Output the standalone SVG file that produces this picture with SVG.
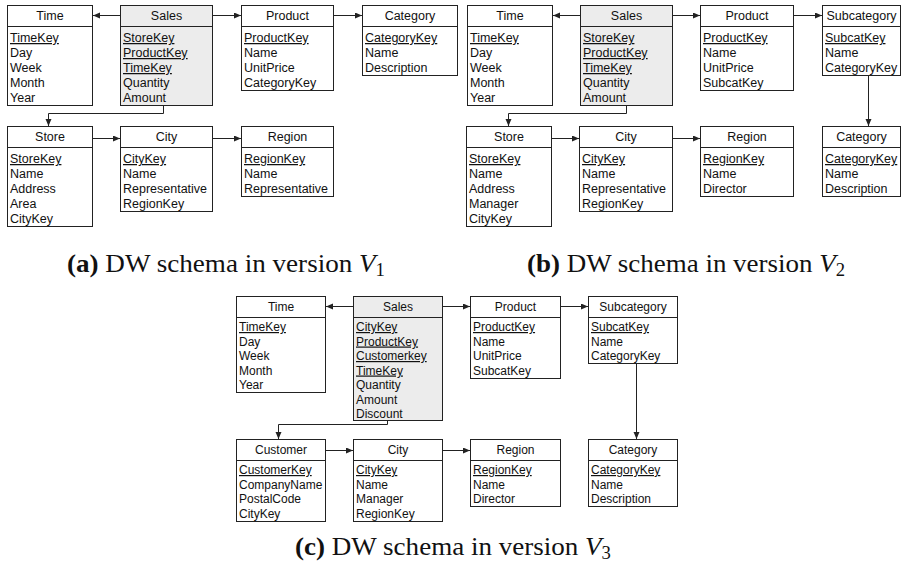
<svg xmlns="http://www.w3.org/2000/svg" width="910" height="563" viewBox="0 0 910 563">
<defs>
<marker id="arr" markerUnits="userSpaceOnUse" markerWidth="8" markerHeight="7" refX="7" refY="3" orient="auto">
<path d="M0,0 L7,3 L0,6 z" fill="#222"/>
</marker>
<style>
rect.b{fill:#fff;stroke:#222;stroke-width:1}
rect.f{fill:#ececec;stroke:#222;stroke-width:1}
line.h{stroke:#222;stroke-width:1}
text{font-family:"Liberation Sans",Arial,sans-serif;fill:#111}
.ab text{font-size:12.5px}
.c3 text{font-size:12px}
text.t{text-anchor:middle}
text.k{text-decoration:underline}
.con path{fill:none;stroke:#222;stroke-width:1;marker-end:url(#arr)}
text.cap{font-family:"Liberation Serif","Times New Roman",serif;font-size:26px;fill:#111}
</style>
</defs>

<!-- (a) -->
<g class="ab">
<g id="a_time"><rect class="b" x="7.5" y="5.5" width="85" height="100"/><line class="h" x1="7.5" y1="26.5" x2="92.5" y2="26.5"/>
<text class="t" x="50" y="20">Time</text>
<text class="k" x="10" y="42">TimeKey</text><text x="10" y="57">Day</text><text x="10" y="72">Week</text><text x="10" y="87">Month</text><text x="10" y="102">Year</text></g>
<g id="a_sales"><rect class="f" x="120.5" y="5.5" width="92" height="100"/><line class="h" x1="120.5" y1="26.5" x2="212.5" y2="26.5"/>
<text class="t" x="166.5" y="20">Sales</text>
<text class="k" x="123" y="42">StoreKey</text><text class="k" x="123" y="57">ProductKey</text><text class="k" x="123" y="72">TimeKey</text><text x="123" y="87">Quantity</text><text x="123" y="102">Amount</text></g>
<g id="a_product"><rect class="b" x="241.5" y="5.5" width="92" height="85"/><line class="h" x1="241.5" y1="26.5" x2="333.5" y2="26.5"/>
<text class="t" x="287.5" y="20">Product</text>
<text class="k" x="244" y="42">ProductKey</text><text x="244" y="57">Name</text><text x="244" y="72">UnitPrice</text><text x="244" y="87">CategoryKey</text></g>
<g id="a_category"><rect class="b" x="362.5" y="5.5" width="95" height="70"/><line class="h" x1="362.5" y1="26.5" x2="457.5" y2="26.5"/>
<text class="t" x="410" y="20">Category</text>
<text class="k" x="365" y="42">CategoryKey</text><text x="365" y="57">Name</text><text x="365" y="72">Description</text></g>
<g id="a_store"><rect class="b" x="7.5" y="126.5" width="85" height="100"/><line class="h" x1="7.5" y1="147.5" x2="92.5" y2="147.5"/>
<text class="t" x="50" y="141">Store</text>
<text class="k" x="10" y="163">StoreKey</text><text x="10" y="178">Name</text><text x="10" y="193">Address</text><text x="10" y="208">Area</text><text x="10" y="223">CityKey</text></g>
<g id="a_city"><rect class="b" x="120.5" y="126.5" width="92" height="85"/><line class="h" x1="120.5" y1="147.5" x2="212.5" y2="147.5"/>
<text class="t" x="166.5" y="141">City</text>
<text class="k" x="123" y="163">CityKey</text><text x="123" y="178">Name</text><text x="123" y="193">Representative</text><text x="123" y="208">RegionKey</text></g>
<g id="a_region"><rect class="b" x="241.5" y="126.5" width="92" height="70"/><line class="h" x1="241.5" y1="147.5" x2="333.5" y2="147.5"/>
<text class="t" x="287.5" y="141">Region</text>
<text class="k" x="244" y="163">RegionKey</text><text x="244" y="178">Name</text><text x="244" y="193">Representative</text></g>

<!-- (b) -->
<g id="b_time"><rect class="b" x="467.5" y="5.5" width="85" height="100"/><line class="h" x1="467.5" y1="26.5" x2="552.5" y2="26.5"/>
<text class="t" x="510" y="20">Time</text>
<text class="k" x="470" y="42">TimeKey</text><text x="470" y="57">Day</text><text x="470" y="72">Week</text><text x="470" y="87">Month</text><text x="470" y="102">Year</text></g>
<g id="b_sales"><rect class="f" x="580.5" y="5.5" width="92" height="100"/><line class="h" x1="580.5" y1="26.5" x2="672.5" y2="26.5"/>
<text class="t" x="626.5" y="20">Sales</text>
<text class="k" x="583" y="42">StoreKey</text><text class="k" x="583" y="57">ProductKey</text><text class="k" x="583" y="72">TimeKey</text><text x="583" y="87">Quantity</text><text x="583" y="102">Amount</text></g>
<g id="b_product"><rect class="b" x="700.5" y="5.5" width="93" height="85"/><line class="h" x1="700.5" y1="26.5" x2="793.5" y2="26.5"/>
<text class="t" x="747" y="20">Product</text>
<text class="k" x="703" y="42">ProductKey</text><text x="703" y="57">Name</text><text x="703" y="72">UnitPrice</text><text x="703" y="87">SubcatKey</text></g>
<g id="b_subcategory"><rect class="b" x="822.5" y="5.5" width="78" height="70"/><line class="h" x1="822.5" y1="26.5" x2="900.5" y2="26.5"/>
<text class="t" x="861.5" y="20">Subcategory</text>
<text class="k" x="825" y="42">SubcatKey</text><text x="825" y="57">Name</text><text x="825" y="72">CategoryKey</text></g>
<g id="b_store"><rect class="b" x="466.5" y="126.5" width="85" height="100"/><line class="h" x1="466.5" y1="147.5" x2="551.5" y2="147.5"/>
<text class="t" x="509" y="141">Store</text>
<text class="k" x="469" y="163">StoreKey</text><text x="469" y="178">Name</text><text x="469" y="193">Address</text><text x="469" y="208">Manager</text><text x="469" y="223">CityKey</text></g>
<g id="b_city"><rect class="b" x="579.5" y="126.5" width="93" height="85"/><line class="h" x1="579.5" y1="147.5" x2="672.5" y2="147.5"/>
<text class="t" x="626" y="141">City</text>
<text class="k" x="582" y="163">CityKey</text><text x="582" y="178">Name</text><text x="582" y="193">Representative</text><text x="582" y="208">RegionKey</text></g>
<g id="b_region"><rect class="b" x="700.5" y="126.5" width="93" height="70"/><line class="h" x1="700.5" y1="147.5" x2="793.5" y2="147.5"/>
<text class="t" x="747" y="141">Region</text>
<text class="k" x="703" y="163">RegionKey</text><text x="703" y="178">Name</text><text x="703" y="193">Director</text></g>
<g id="b_category"><rect class="b" x="822.5" y="126.5" width="78" height="70"/><line class="h" x1="822.5" y1="147.5" x2="900.5" y2="147.5"/>
<text class="t" x="861.5" y="141">Category</text>
<text class="k" x="825" y="163">CategoryKey</text><text x="825" y="178">Name</text><text x="825" y="193">Description</text></g>
</g>

<!-- (c) -->
<g class="c3">
<g id="c_time"><rect class="b" x="236.5" y="296.5" width="89" height="96"/><line class="h" x1="236.5" y1="317.5" x2="325.5" y2="317.5"/>
<text class="t" x="281" y="311">Time</text>
<text class="k" x="239" y="331">TimeKey</text><text x="239" y="345.5">Day</text><text x="239" y="360">Week</text><text x="239" y="374.5">Month</text><text x="239" y="389">Year</text></g>
<g id="c_sales"><rect class="f" x="353.5" y="296.5" width="89" height="124"/><line class="h" x1="353.5" y1="317.5" x2="442.5" y2="317.5"/>
<text class="t" x="398" y="311">Sales</text>
<text class="k" x="356" y="331">CityKey</text><text class="k" x="356" y="345.5">ProductKey</text><text class="k" x="356" y="360">Customerkey</text><text class="k" x="356" y="374.5">TimeKey</text><text x="356" y="389">Quantity</text><text x="356" y="403.5">Amount</text><text x="356" y="418">Discount</text></g>
<g id="c_product"><rect class="b" x="470.5" y="296.5" width="90" height="82"/><line class="h" x1="470.5" y1="317.5" x2="560.5" y2="317.5"/>
<text class="t" x="515.5" y="311">Product</text>
<text class="k" x="473" y="331">ProductKey</text><text x="473" y="345.5">Name</text><text x="473" y="360">UnitPrice</text><text x="473" y="374.5">SubcatKey</text></g>
<g id="c_subcategory"><rect class="b" x="588.5" y="296.5" width="89" height="67"/><line class="h" x1="588.5" y1="317.5" x2="677.5" y2="317.5"/>
<text class="t" x="633" y="311">Subcategory</text>
<text class="k" x="591" y="331">SubcatKey</text><text x="591" y="345.5">Name</text><text x="591" y="360">CategoryKey</text></g>
<g id="c_customer"><rect class="b" x="236.5" y="439.5" width="89" height="82"/><line class="h" x1="236.5" y1="460.5" x2="325.5" y2="460.5"/>
<text class="t" x="281" y="454">Customer</text>
<text class="k" x="239" y="474">CustomerKey</text><text x="239" y="488.5">CompanyName</text><text x="239" y="503">PostalCode</text><text x="239" y="517.5">CityKey</text></g>
<g id="c_city"><rect class="b" x="353.5" y="439.5" width="89" height="82"/><line class="h" x1="353.5" y1="460.5" x2="442.5" y2="460.5"/>
<text class="t" x="398" y="454">City</text>
<text class="k" x="356" y="474">CityKey</text><text x="356" y="488.5">Name</text><text x="356" y="503">Manager</text><text x="356" y="517.5">RegionKey</text></g>
<g id="c_region"><rect class="b" x="470.5" y="439.5" width="90" height="67"/><line class="h" x1="470.5" y1="460.5" x2="560.5" y2="460.5"/>
<text class="t" x="515.5" y="454">Region</text>
<text class="k" x="473" y="474">RegionKey</text><text x="473" y="488.5">Name</text><text x="473" y="503">Director</text></g>
<g id="c_category"><rect class="b" x="588.5" y="439.5" width="89" height="67"/><line class="h" x1="588.5" y1="460.5" x2="677.5" y2="460.5"/>
<text class="t" x="633" y="454">Category</text>
<text class="k" x="591" y="474">CategoryKey</text><text x="591" y="488.5">Name</text><text x="591" y="503">Description</text></g>
</g>

<g id="connectors" class="con">
<path d="M120.5,15.5 H93"/>
<path d="M212.5,15.5 H241"/>
<path d="M333.5,15.5 H362"/>
<path d="M163.5,105.5 V113.5 H48.5 V126"/>
<path d="M92.5,138.5 H120"/>
<path d="M212.5,138.5 H241"/>
<path d="M580.5,15.5 H553"/>
<path d="M672.5,15.5 H700"/>
<path d="M793.5,15.5 H822"/>
<path d="M868.5,75.5 V126"/>
<path d="M626.5,105.5 V113.5 H508.5 V126"/>
<path d="M551.5,138.5 H579"/>
<path d="M672.5,138.5 H700"/>
<path d="M353.5,306.5 H326"/>
<path d="M442.5,306.5 H470"/>
<path d="M560.5,306.5 H588"/>
<path d="M636.5,363.5 V439"/>
<path d="M387.5,420.5 V424.5 H278.5 V439"/>
<path d="M325.5,450.5 H353"/>
<path d="M442.5,450.5 H470"/>
</g>

<g id="captions">
<text class="cap" x="67" y="272" textLength="318" lengthAdjust="spacingAndGlyphs"><tspan font-weight="bold">(a)</tspan> DW schema in version <tspan font-style="italic">V</tspan><tspan font-size="18" dy="4">1</tspan></text>
<text class="cap" x="527" y="272" textLength="318" lengthAdjust="spacingAndGlyphs"><tspan font-weight="bold">(b)</tspan> DW schema in version <tspan font-style="italic">V</tspan><tspan font-size="18" dy="4">2</tspan></text>
<text class="cap" x="295" y="555" textLength="316" lengthAdjust="spacingAndGlyphs"><tspan font-weight="bold">(c)</tspan> DW schema in version <tspan font-style="italic">V</tspan><tspan font-size="18" dy="4">3</tspan></text>
</g>
</svg>
